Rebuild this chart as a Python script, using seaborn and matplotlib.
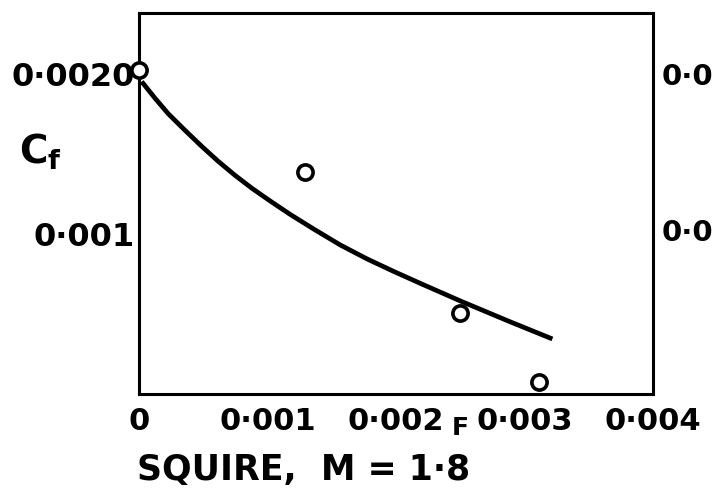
import matplotlib
matplotlib.use("Agg")
import matplotlib.pyplot as plt
import seaborn as sns
import pandas as pd

# Measured skin-friction coefficients
point_x = [0.0, 0.00129, 0.0025, 0.00311]
point_cf = [0.002025, 0.00139, 0.000506, 0.000075]

# Theoretical curve
curve_x = [0.000021, 0.000125, 0.000228, 0.000359, 0.000489, 0.000618,
           0.000748, 0.000878, 0.001021, 0.001177, 0.001359, 0.001567,
           0.001775, 0.001982, 0.002190, 0.002502, 0.002892, 0.003217]
curve_cf = [0.001952, 0.001848, 0.001751, 0.001647, 0.001547, 0.001453,
            0.001366, 0.001286, 0.001206, 0.001122, 0.001031, 0.000931,
            0.000844, 0.000766, 0.000691, 0.000581, 0.000450, 0.000344]

x_ticks = [0.0, 0.001, 0.002, 0.003, 0.004]
x_tick_labels = ["0", "0·001", "0·002", "0·003", "0·004"]
y_ticks = [0.001, 0.002]
y_tick_labels = ["0·001", "0·0020"]

sns.set_theme(style="white")
plt.rcParams["font.family"] = ["DejaVu Sans"]
plt.rcParams["mathtext.fontset"] = "dejavusans"

W, H = 720, 491
fig = plt.figure(figsize=(W / 100, H / 100), dpi=100)
ax = fig.add_axes([139 / W, 1 - 394 / H, 514 / W, (394 - 12.5) / H])

curve = pd.DataFrame({"x": curve_x, "cf": curve_cf})
pts = pd.DataFrame({"x": point_x, "cf": point_cf})

sns.lineplot(data=curve, x="x", y="cf", sort=False, color="black",
             linewidth=3.4, solid_joinstyle="round", solid_capstyle="butt",
             ax=ax)
sns.scatterplot(data=pts, x="x", y="cf", marker="o", s=120,
                facecolor="white", edgecolor="black", linewidth=2.6,
                ax=ax, zorder=5, clip_on=False)

ax.set_xlim(0, 0.004)
ax.set_ylim(0, 0.002384)
ax.set_xlabel("")
ax.set_ylabel("")

ax.set_xticks(x_ticks)
ax.set_xticklabels(x_tick_labels)
ax.set_yticks(y_ticks)
ax.set_yticklabels(y_tick_labels)
ax.tick_params(axis="both", direction="in", length=11, width=1.8,
               color="black", labelcolor="black")
ax.tick_params(axis="x", pad=9, labelsize=22)
ax.tick_params(axis="y", pad=3, labelsize=23)
for lab in ax.get_xticklabels() + ax.get_yticklabels():
    lab.set_fontweight("bold")

for side in ["left", "right", "top", "bottom"]:
    ax.spines[side].set_visible(True)
    ax.spines[side].set_color("black")
    ax.spines[side].set_linewidth(2.2)

# Axis titles
fig.text(40 / W, 1 - 152 / H, r"$\mathbf{C}_\mathbf{f}$", fontsize=28,
         ha="center", va="center", color="black")
fig.text(137 / W, 1 - 470 / H, "SQUIRE,  M = 1·8", fontsize=25,
         fontweight="bold", ha="left", va="center", color="black")

# Stray lettering near the bottom axis and at the right margin
fig.text(460 / W, 1 - 428 / H, "F", fontsize=18, fontweight="bold",
         ha="center", va="center", color="black")
fig.text(662 / W, 1 - 77 / H, "0·0", fontsize=21, fontweight="bold",
         ha="left", va="center", color="black")
fig.text(662 / W, 1 - 233 / H, "0·0", fontsize=21, fontweight="bold",
         ha="left", va="center", color="black")

fig.savefig("out.png", dpi=100, facecolor="white")
